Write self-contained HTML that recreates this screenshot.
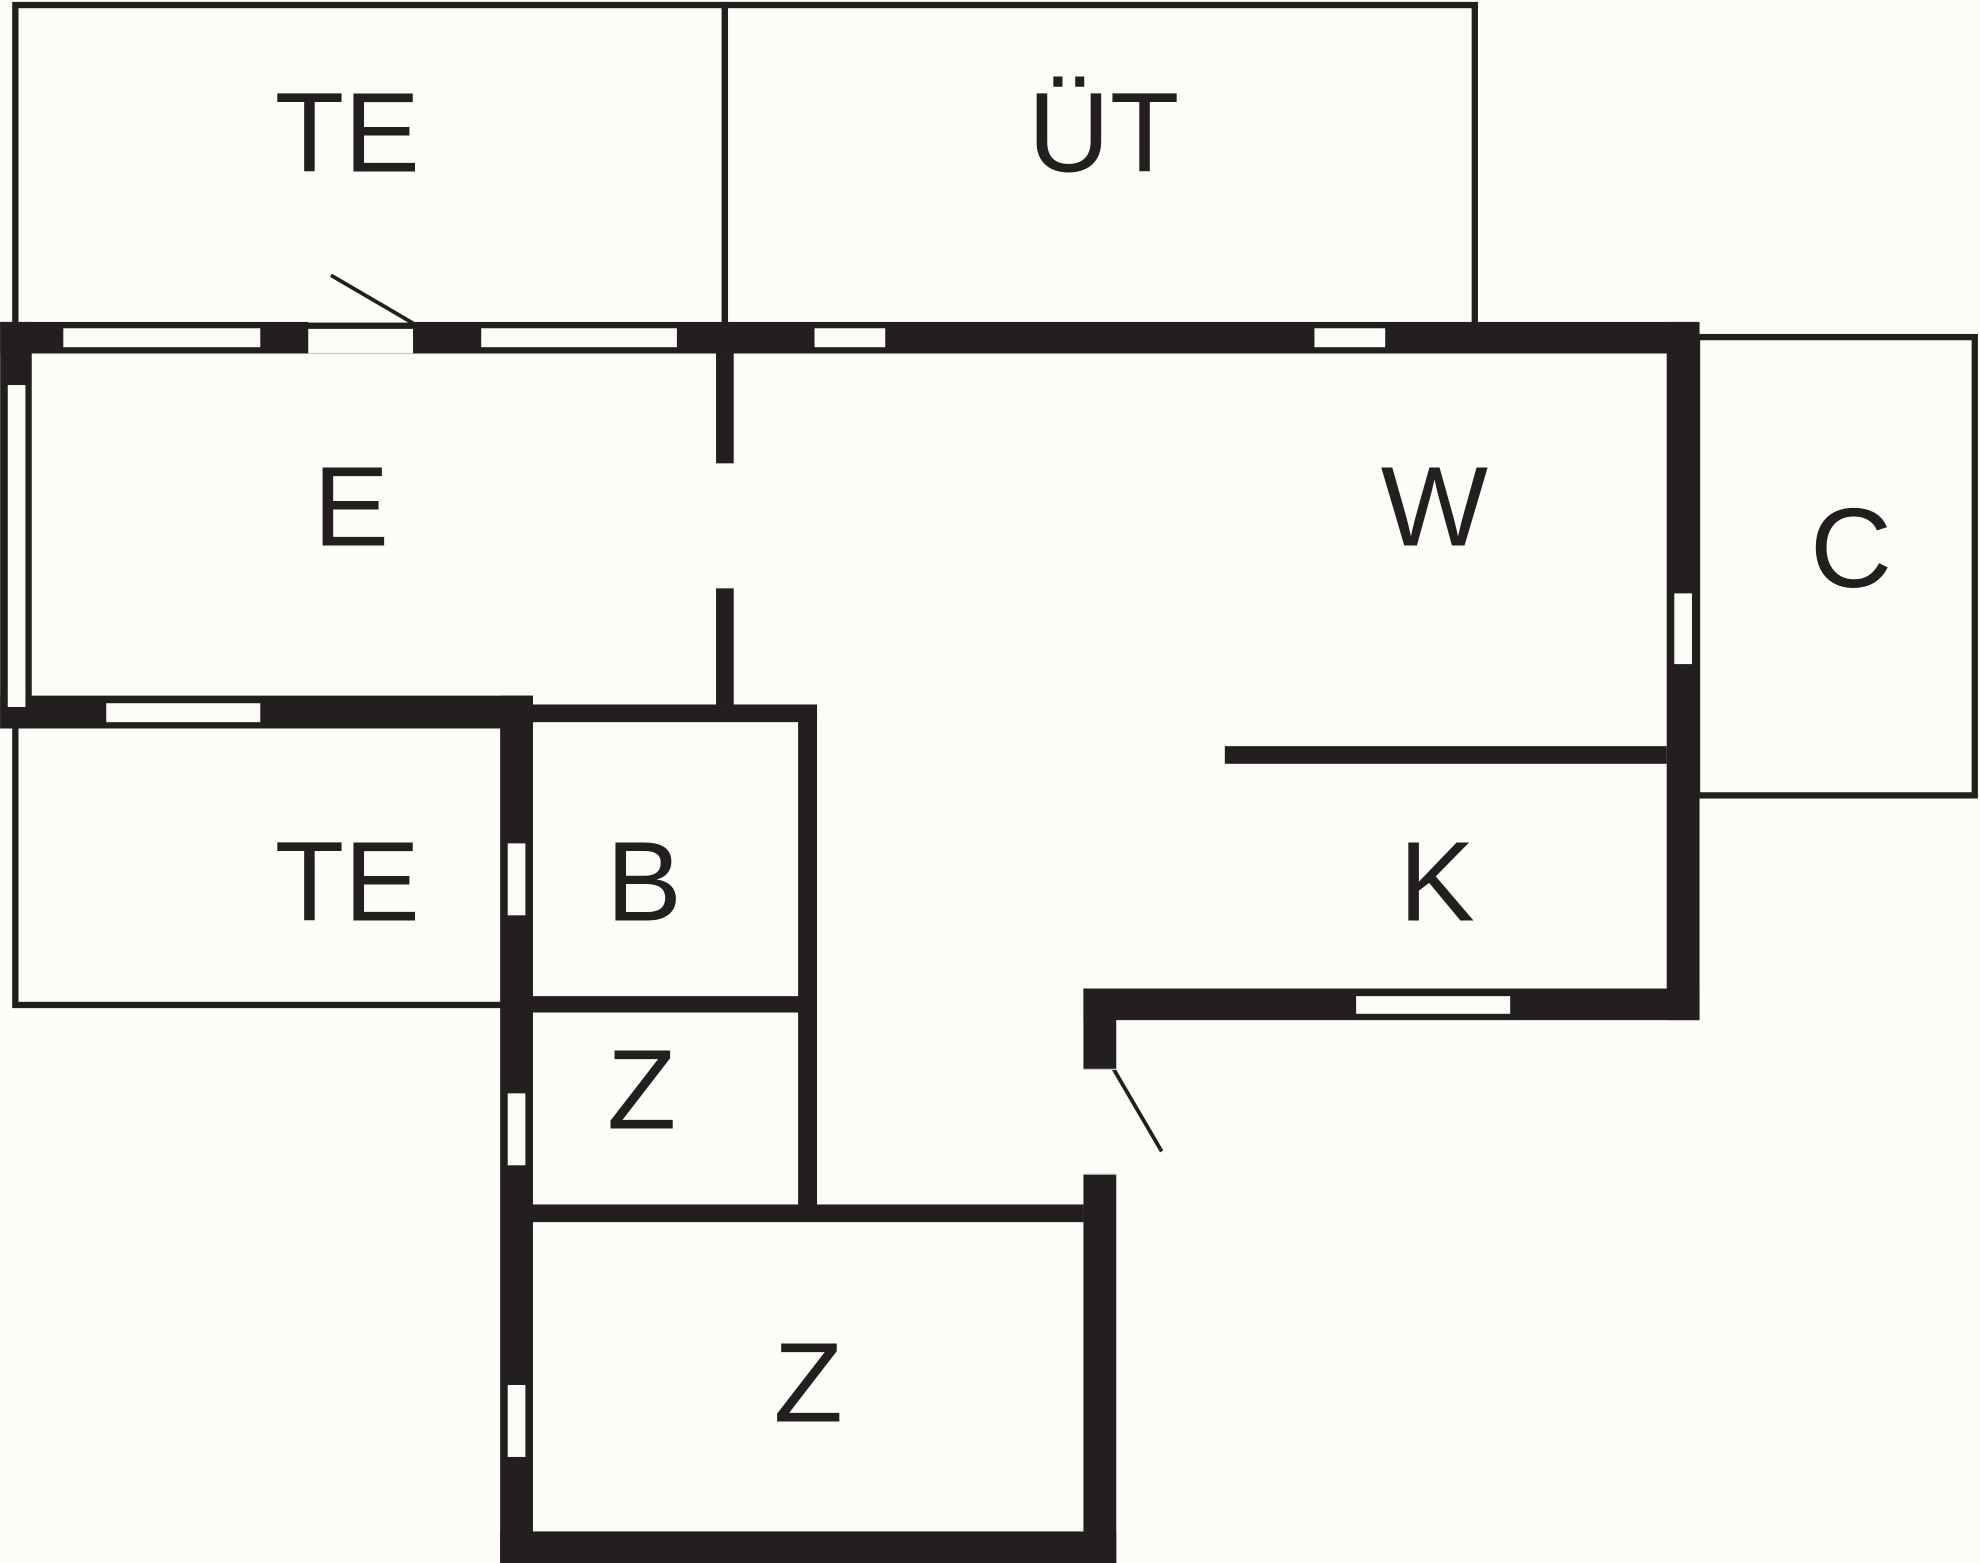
<!DOCTYPE html>
<html><head><meta charset="utf-8"><style>
html,body{margin:0;padding:0;background:#fdfdf8;}
svg{display:block;}
text{font-family:"Liberation Sans",Arial,sans-serif;font-size:90px;fill:#231f20;text-anchor:middle;}
</style></head><body>
<svg width="1980" height="1563" viewBox="0 0 1568 1238" xmlns="http://www.w3.org/2000/svg">
<rect x="0" y="0" width="1568" height="1238" fill="#fdfdf8"/>
<g fill="#fdfdf8" stroke="#231f20" stroke-width="5">
<rect x="12" y="4" width="562" height="254"/>
<rect x="574" y="4" width="594" height="254"/>
<rect x="1344" y="267" width="220" height="363"/>
<rect x="12" y="574" width="388" height="222"/>
</g>
<g fill="#231f20">
<!-- top wall -->
<rect x="0" y="255" width="244" height="25"/>
<rect x="327" y="255" width="1019" height="25"/>
<!-- left wall -->
<rect x="0" y="255" width="25" height="322"/>
<!-- E bottom wall -->
<rect x="0" y="551" width="422" height="26"/>
<!-- partition E/W -->
<rect x="567" y="280" width="14" height="87"/>
<rect x="567" y="466" width="14" height="92"/>
<!-- right wall -->
<rect x="1320" y="255" width="26" height="553"/>
<!-- W/K partition -->
<rect x="970" y="591" width="350" height="14"/>
<!-- K bottom -->
<rect x="858" y="783" width="488" height="25"/>
<!-- wall x 858 -->
<rect x="858" y="783" width="26" height="64"/>
<rect x="858" y="930" width="26" height="308"/>
<!-- left wall of B/Z -->
<rect x="396" y="551" width="26" height="687"/>
<!-- B top -->
<rect x="421" y="558" width="226" height="14"/>
<!-- B right -->
<rect x="632" y="558" width="15" height="397"/>
<!-- B/Z divider -->
<rect x="421" y="789" width="212" height="13"/>
<!-- Z/Z divider -->
<rect x="421" y="954" width="437" height="14"/>
<!-- bottom -->
<rect x="396" y="1213" width="488" height="25"/>
</g>
<!-- windows -->
<g fill="#fdfdf8">
<rect x="50" y="260" width="156" height="15"/>
<rect x="381" y="260" width="155" height="15"/>
<rect x="645" y="260" width="56" height="15"/>
<rect x="1041" y="260" width="56" height="15"/>
<rect x="6" y="305" width="14" height="255"/>
<rect x="84" y="557" width="122" height="15"/>
<rect x="1326" y="470" width="14" height="56"/>
<rect x="1074" y="789" width="122" height="14"/>
<rect x="402" y="668" width="14" height="57"/>
<rect x="402" y="866" width="14" height="57"/>
<rect x="402" y="1097" width="14" height="57"/>
</g>
<!-- doors -->
<line x1="262" y1="218" x2="327" y2="256" stroke="#231f20" stroke-width="3"/>
<line x1="882" y1="847" x2="920" y2="912" stroke="#231f20" stroke-width="3"/>
<line x1="244" y1="280" x2="327" y2="280" stroke="#ccc" stroke-width="1"/>
<line x1="858" y1="847" x2="884" y2="847" stroke="#ccc" stroke-width="1"/>
<line x1="858" y1="930" x2="884" y2="930" stroke="#ccc" stroke-width="1"/>
<text x="275" y="136">TE</text>
<text x="874" y="136">ÜT</text>
<text x="278" y="432">E</text>
<text x="1136" y="432">W</text>
<text x="1466" y="465">C</text>
<text x="275" y="729">TE</text>
<text x="510" y="729">B</text>
<text x="1138" y="729">K</text>
<text x="508" y="894">Z</text>
<text x="640" y="1126">Z</text>
</svg>
</body></html>
